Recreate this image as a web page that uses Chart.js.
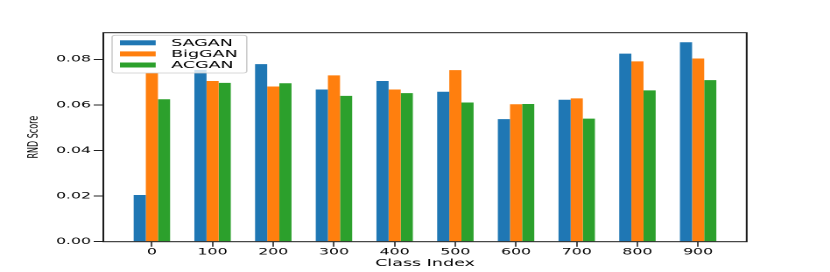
<!DOCTYPE html>
<html><head><meta charset="utf-8">
<script src="https://cdn.jsdelivr.net/npm/chart.js@4.4.1/dist/chart.umd.min.js"></script>
<style>
html,body{margin:0;padding:0;background:#fff;overflow:hidden;}
#wrap{width:474px;height:272px;transform:scaleX(1.7511);transform-origin:0 0;}
</style></head><body>
<div id="wrap"><canvas id="c"></canvas></div>
<script>
const categories = ['0','100','200','300','400','500','600','700','800','900'];
const seriesNames = ['SAGAN','BigGAN','ACGAN'];
const sagan  = [0.0205,0.0754,0.0779,0.0668,0.0705,0.0658,0.0538,0.0623,0.0825,0.0875];
const biggan = [0.0740,0.0705,0.0681,0.0730,0.0668,0.0753,0.0603,0.0629,0.0791,0.0804];
const acgan  = [0.0625,0.0697,0.0695,0.0640,0.0652,0.0611,0.0604,0.0540,0.0664,0.0709];
const yTicks = [0.00,0.02,0.04,0.06,0.08];
const colors = ['#1f77b4','#ff7f0e','#2ca02c'];

const FONT = "'DejaVu Sans', sans-serif";
const toPts = arr => arr.map((v,i)=>({x:i,y:v}));

const framePlugin = {
  id:'frame',
  afterDatasetsDraw(chart){
    const {ctx, chartArea:a} = chart;
    ctx.save();
    ctx.strokeStyle = '#1a1a1a';
    ctx.lineWidth = 1;
    ctx.strokeRect(a.left, a.top, a.right-a.left, a.bottom-a.top);
    ctx.restore();
  }
};

const legendPlugin = {
  id:'mplLegend',
  afterDraw(chart){
    const ctx = chart.ctx;
    const x=64.0, y=35.3, w=76.9, h=37.7, r=2;
    ctx.save();
    ctx.beginPath();
    ctx.moveTo(x+r,y); ctx.lineTo(x+w-r,y); ctx.quadraticCurveTo(x+w,y,x+w,y+r);
    ctx.lineTo(x+w,y+h-r); ctx.quadraticCurveTo(x+w,y+h,x+w-r,y+h);
    ctx.lineTo(x+r,y+h); ctx.quadraticCurveTo(x,y+h,x,y+h-r);
    ctx.lineTo(x,y+r); ctx.quadraticCurveTo(x,y,x+r,y); ctx.closePath();
    ctx.fillStyle='rgba(255,255,255,0.8)'; ctx.fill();
    ctx.strokeStyle='#cccccc'; ctx.lineWidth=0.8; ctx.stroke();
    const rows=[42.8,53.9,65.0];
    ctx.font = '10px '+FONT;
    ctx.textBaseline='middle'; ctx.textAlign='left';
    chart.data.datasets.forEach((ds,i)=>{
      ctx.fillStyle = ds.backgroundColor;
      ctx.fillRect(68.5, rows[i]-2.5, 20.4, 5);
      ctx.fillStyle = '#000';
      ctx.fillText(ds.label, 97.7, rows[i]+0.5);
    });
    ctx.restore();
  }
};

new Chart(document.getElementById('c'), {
  type:'bar',
  data:{
    datasets:[
      {label:seriesNames[0], data:toPts(sagan),  backgroundColor:colors[0]},
      {label:seriesNames[1], data:toPts(biggan), backgroundColor:colors[1]},
      {label:seriesNames[2], data:toPts(acgan),  backgroundColor:colors[2]}
    ]
  },
  options:{
    responsive:true, maintainAspectRatio:false, animation:false,
    devicePixelRatio:2,
    layout:{padding:{left:0,right:47.6,top:32.7,bottom:0}},
    datasets:{bar:{categoryPercentage:0.6, barPercentage:1.0, borderWidth:0}},
    plugins:{legend:{display:false}, tooltip:{enabled:false}},
    scales:{
      x:{
        type:'linear', min:-0.8, max:9.8, offset:false,
        afterBuildTicks:s=>{ s.ticks = categories.map((_,i)=>({value:i})); },
        afterFit:s=>{ s.height = 30.3; },
        ticks:{autoSkip:false, maxRotation:0, padding:0, color:'#000',
               font:{family:FONT,size:9}, callback:v=>categories[v]},
        grid:{offset:false, drawOnChartArea:false, drawTicks:true, tickLength:5, color:'#222', lineWidth:0.8},
        border:{display:false},
        title:{display:true, text:'Class Index', color:'#000', font:{family:FONT,size:10}, padding:{top:0,bottom:2.5}}
      },
      y:{
        min:0, max:0.0917,
        afterBuildTicks:s=>{ s.ticks = yTicks.map(v=>({value:v})); },
        afterFit:s=>{ s.width = 59; },
        ticks:{padding:1.5, color:'#000', font:{family:FONT,size:9}, callback:v=>Number(v).toFixed(2)},
        grid:{offset:false, drawOnChartArea:false, drawTicks:true, tickLength:5.5, color:'#222', lineWidth:1},
        border:{display:false},
        title:{display:true, text:'RND Score', color:'#000', font:{family:FONT,size:8}, padding:{top:14.5,bottom:0}}
      }
    }
  },
  plugins:[framePlugin, legendPlugin]
});
</script>
</body></html>
